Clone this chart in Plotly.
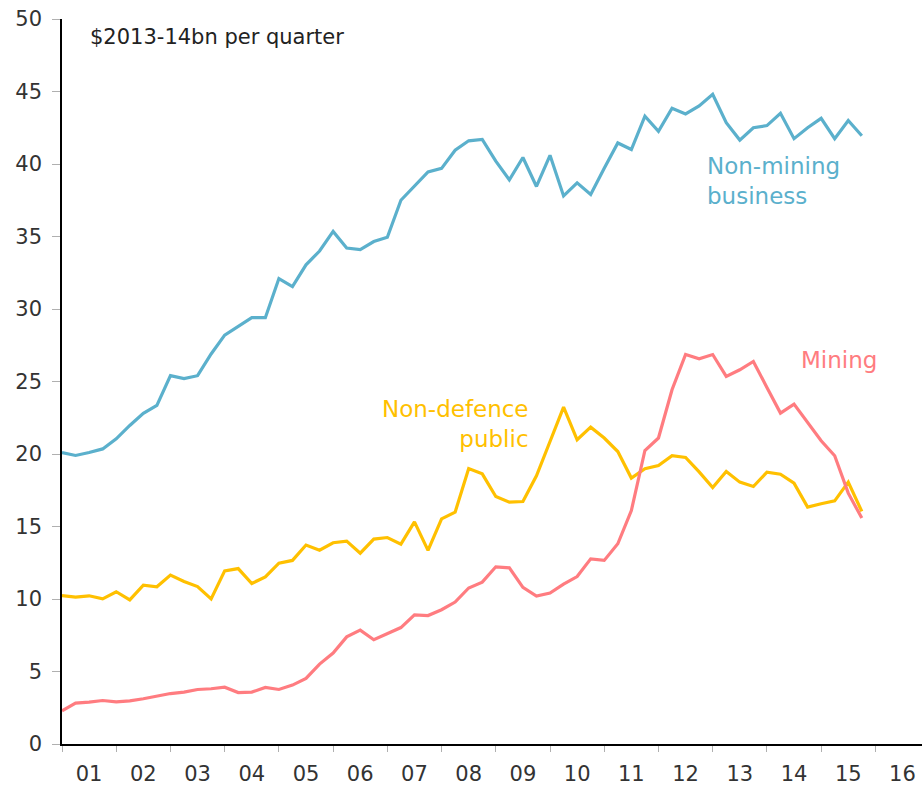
import plotly.graph_objects as go

# quarterly data, 2001 Q1 .. 2015 Q4
start_year = 2001
non_mining = [20.1, 19.9, 20.1, 20.35, 21.05, 21.97, 22.8, 23.35, 25.4, 25.2,
              25.4, 26.9, 28.2, 28.8, 29.4, 29.4, 32.1, 31.55, 33.05, 34.0,
              35.35, 34.2, 34.1, 34.65, 34.95, 37.5, 38.5, 39.45, 39.7, 40.95,
              41.6, 41.7, 40.2, 38.9, 40.45, 38.45, 40.6, 37.8, 38.7, 37.9,
              39.7, 41.45, 41.0, 43.3, 42.25, 43.85, 43.45, 44.0, 44.8, 42.85,
              41.65, 42.5, 42.65, 43.5, 41.75, 42.5, 43.15, 41.75, 43.0, 41.95]
non_defence = [10.24, 10.13, 10.22, 10.01, 10.5, 9.94, 10.96, 10.84, 11.65, 11.21,
               10.86, 10.01, 11.94, 12.1, 11.07, 11.53, 12.47, 12.66, 13.72, 13.37,
               13.88, 13.99, 13.16, 14.13, 14.24, 13.78, 15.32, 13.35, 15.53, 15.99,
               19.0, 18.63, 17.07, 16.68, 16.72, 18.5, 20.86, 23.23, 20.98, 21.85,
               21.1, 20.17, 18.34, 18.98, 19.21, 19.88, 19.76, 18.77, 17.69, 18.8,
               18.06, 17.76, 18.75, 18.61, 17.99, 16.34, 16.57, 16.77, 18.06, 16.04]
mining = [2.29, 2.82, 2.89, 3.0, 2.91, 2.98, 3.12, 3.3, 3.48, 3.58,
          3.76, 3.81, 3.92, 3.55, 3.58, 3.9, 3.76, 4.06, 4.52, 5.51,
          6.27, 7.39, 7.85, 7.19, 7.6, 8.03, 8.91, 8.86, 9.26, 9.79,
          10.76, 11.16, 12.22, 12.15, 10.8, 10.2, 10.41, 11.03, 11.55, 12.77,
          12.66, 13.81, 16.1, 20.24, 21.1, 24.43, 26.86, 26.57, 26.86, 25.35,
          25.81, 26.38, 24.59, 22.82, 23.44, 22.17, 20.91, 19.88, 17.3, 15.58]

year_labels = ["01", "02", "03", "04", "05", "06", "07", "08",
               "09", "10", "11", "12", "13", "14", "15", "16"]

x = [start_year + i * 0.25 for i in range(len(non_mining))]

BLUE = "#5BB0CC"
YELLOW = "#FFC000"
RED = "#FF7C80"
FONT = "DejaVu Sans"

fig = go.Figure()
fig.add_trace(go.Scatter(x=x, y=non_mining, mode="lines", line=dict(color=BLUE, width=3.2)))
fig.add_trace(go.Scatter(x=x, y=non_defence, mode="lines", line=dict(color=YELLOW, width=3.2)))
fig.add_trace(go.Scatter(x=x, y=mining, mode="lines", line=dict(color=RED, width=3.2)))

fig.update_layout(
    width=924, height=789,
    margin=dict(l=62, r=2, t=19, b=45, autoexpand=False),
    paper_bgcolor="white", plot_bgcolor="white",
    showlegend=False,
    font=dict(family=FONT, color="#333333", size=20),
)
fig.update_xaxes(
    range=[2001, 2016.86], automargin=False,
    tickvals=[start_year + k + 0.5 for k in range(len(year_labels))],
    ticktext=year_labels,
    ticks="", showgrid=False, zeroline=False,
    showline=True, linecolor="black", linewidth=1.5,
    tickfont=dict(family=FONT, size=21, color="#333333"),
    ticklabelstandoff=10,
    minor=dict(tick0=2001, dtick=1, ticks="outside", ticklen=6, tickcolor="#b0b0b0", tickwidth=1),
)
fig.update_yaxes(
    range=[0, 50], dtick=5, showgrid=False, zeroline=False, automargin=False,
    showline=True, linecolor="black", linewidth=1.5,
    ticks="outside", ticklen=8, tickcolor="#b0b0b0", tickwidth=1,
    tickfont=dict(family=FONT, size=21, color="#333333"),
    ticklabelstandoff=6,
)

fig.add_annotation(xref="paper", yref="paper", x=(88 - 62) / 860, y=(744 - 37) / 725,
                   text="$2013-14bn per quarter", showarrow=False,
                   xanchor="left", yanchor="middle",
                   font=dict(family=FONT, size=21, color="#222222"))
fig.add_annotation(x=2012.85, y=38.85, text="Non-mining<br>business", showarrow=False,
                   xanchor="left", yanchor="middle", align="left",
                   font=dict(family=FONT, size=23, color=BLUE))
fig.add_annotation(x=2016.06, y=26.5, text="Mining", showarrow=False,
                   xanchor="right", yanchor="middle", align="right",
                   font=dict(family=FONT, size=23, color=RED))
fig.add_annotation(x=2009.65, y=22.1, text="Non-defence<br>public", showarrow=False,
                   xanchor="right", yanchor="middle", align="right",
                   font=dict(family=FONT, size=23, color=YELLOW))

fig.write_html("out.html",
               config={"displayModeBar": False},
               post_script="document.body.style.margin='0px';document.body.style.overflow='hidden';")
